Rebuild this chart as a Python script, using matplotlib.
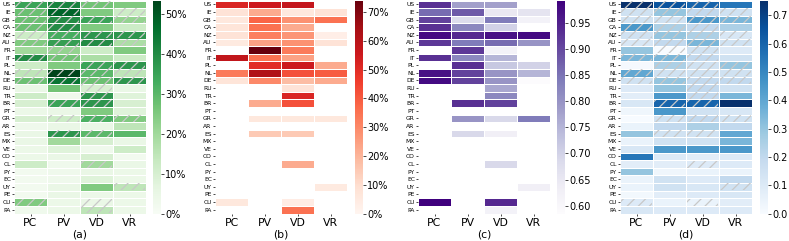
import numpy as np
import matplotlib
matplotlib.use("Agg")
import matplotlib.pyplot as plt
from matplotlib.patches import Rectangle
from matplotlib.ticker import FuncFormatter

countries = ["US", "IE", "GB", "CA", "NZ", "AU", "FR", "IT", "PL", "NL", "DE", "RU", "TR", "BR",
             "PT", "GR", "AR", "ES", "MX", "VE", "CO", "CL", "PY", "EC", "UY", "PE", "CU", "PA"]
columns = ["PC", "PV", "VD", "VR"]
N = None

# (a) percentages
vals_a = [
    [35, 42, 27, 25], [28, 48, 25, 12], [28, 40, 35, 22], [28, 40, 25, 12],
    [12, 33, 38, 38], [25, 36, 40, 18], [20, 22, 12, 25], [40, 27, 18, 12],
    [12, 25, 35, 38], [15, 53.5, 30, 15], [28, 45, 28, 38], [5, 27, 10, 5],
    [12, 3, 38, 8], [10, 35, 38, 10], [4, 5, 25, 8], [10, 12, 32, 25],
    [3, 5, 5, 15], [5, 38, 30, 30], [5, 20, 10, 5], [4, 8, 3, 12],
    [4, 5, 10, 2], [12, 3, 20, 5], [2, 3, 5, 4], [2, 3, 8, 4],
    [2, 5, 25, 15], [2, 5, 4, 4], [25, 4, 5, 4], [3, 4, 15, 4],
]
hatch_a = [
    [1, 1, 1, 0], [1, 1, 0, 1], [1, 1, 1, 1], [1, 1, 0, 0], [1, 1, 1, 1], [1, 1, 1, 1],
    [0, 1, 0, 0], [1, 1, 0, 0], [0, 0, 1, 1], [1, 1, 1, 1], [1, 1, 1, 1], [0, 0, 1, 0],
    [0, 0, 1, 0], [0, 1, 1, 0], [0, 0, 0, 0], [0, 1, 1, 1], [0, 0, 0, 0], [0, 1, 1, 0],
    [0, 0, 0, 0], [0, 0, 0, 0], [0, 0, 0, 0], [0, 0, 1, 0], [0, 0, 0, 0], [0, 0, 0, 0],
    [0, 0, 0, 1], [0, 0, 0, 0], [1, 0, 1, 0], [0, 0, 1, 0],
]
# (b) percentages
vals_b = [
    [52, 55, 57, N], [8, 22, 6, 8], [6, 38, 28, 35], [7, 35, 22, N],
    [8, 32, 27, 3], [5, 24, 28, 8], [N, 74, 33, N], [58, 35, 24, N],
    [N, 50, 55, 22], [33, 62, 42, 40], [7, 30, 18, 22], [N, N, 8, N],
    [N, N, 52, N], [N, 22, 42, N], [N, N, N, N], [N, 6, 6, 6],
    [N, N, N, N], [N, 15, 15, N], [N, N, N, N], [N, N, N, N],
    [N, N, N, N], [N, N, 22, N], [N, N, N, N], [N, N, N, N],
    [N, N, N, 5], [N, N, N, N], [6, N, 4, N], [N, N, 35, N],
]
# (c)
vals_c = [
    [0.93, 0.78, 0.78, N], [0.86, 0.88, 0.65, 0.66], [0.91, 0.68, 0.84, 0.62], [0.93, 0.82, 0.70, N],
    [0.98, 0.94, 0.97, 0.98], [0.92, 0.84, 0.86, 0.80], [N, 0.92, 0.62, N], [0.93, 0.82, 0.75, N],
    [N, 0.93, 0.72, 0.70], [0.97, 0.91, 0.80, 0.75], [0.98, 0.91, 0.80, 0.585], [N, N, 0.77, N],
    [N, N, 0.82, N], [N, 0.93, 0.91, N], [N, N, N, N], [N, 0.80, 0.69, 0.84],
    [N, N, N, N], [N, 0.69, 0.63, N], [N, N, N, N], [N, N, N, N],
    [N, N, N, N], [N, N, 0.69, N], [N, N, N, N], [N, N, N, N],
    [N, N, N, 0.63], [N, N, N, N], [0.993, N, 0.94, N], [N, N, 0.62, N],
]
# (d)
vals_d = [
    [0.753, 0.65, 0.60, 0.55], [0.15, 0.30, 0.20, 0.15], [0.15, 0.15, 0.45, 0.35], [0.45, 0.25, 0.20, 0.25],
    [0.15, 0.30, 0.25, 0.12], [0.12, 0.20, 0.35, 0.15], [0.30, 0.0, 0.15, 0.10], [0.35, 0.35, 0.20, 0.15],
    [0.01, 0.25, 0.15, 0.30], [0.40, 0.15, 0.15, 0.15], [0.15, 0.30, 0.20, 0.20], [0.10, 0.30, 0.20, 0.15],
    [0.08, 0.45, 0.20, 0.35], [0.12, 0.60, 0.60, 0.75], [0.03, 0.45, 0.15, 0.12], [0.0, 0.15, 0.20, 0.15],
    [0.05, 0.20, 0.25, 0.20], [0.30, 0.15, 0.15, 0.40], [0.05, 0.15, 0.15, 0.35], [0.12, 0.45, 0.45, 0.45],
    [0.55, 0.10, 0.08, 0.10], [0.08, 0.08, 0.10, 0.10], [0.30, 0.03, 0.05, 0.05], [0.05, 0.15, 0.10, 0.20],
    [0.05, 0.15, 0.12, 0.15], [0.02, 0.08, 0.10, 0.12], [0.10, 0.05, 0.05, 0.08], [0.12, 0.10, 0.10, 0.10],
]
hatch_d = [
    [1, 1, 1, 0], [1, 1, 1, 1], [1, 1, 1, 1], [1, 1, 1, 0], [1, 1, 1, 1], [1, 1, 1, 1],
    [0, 1, 1, 0], [1, 1, 1, 0], [0, 1, 1, 1], [1, 1, 1, 1], [1, 1, 1, 1], [0, 0, 1, 0],
    [0, 0, 1, 0], [0, 1, 1, 0], [0, 0, 0, 0], [0, 1, 1, 1], [0, 0, 0, 0], [0, 1, 1, 0],
    [0, 0, 0, 0], [0, 0, 0, 0], [0, 0, 0, 0], [0, 0, 1, 0], [0, 0, 0, 0], [0, 0, 0, 0],
    [0, 0, 0, 1], [0, 0, 0, 0], [1, 0, 1, 0], [0, 0, 0, 0],
]
panel_labels = ["(a)", "(b)", "(c)", "(d)"]

W, H = 789, 241
HATCH_COLOR = "#c8c8c8"
plt.rcParams["hatch.linewidth"] = 0.9
plt.rcParams["hatch.color"] = HATCH_COLOR
fig = plt.figure(figsize=(W / 100, H / 100), dpi=100)


def to_arr(v):
    return np.array([[np.nan if x is None else x for x in row] for row in v], dtype=float)


specs = [
    (vals_a, hatch_a, "Greens", 0.0, None, FuncFormatter(lambda v, p: "%d%%" % round(v)), np.arange(0, 60, 10)),
    (vals_b, None, "Reds", 0.0, None, FuncFormatter(lambda v, p: "%d%%" % round(v)), np.arange(0, 80, 10)),
    (vals_c, None, "Purples", None, None, FuncFormatter(lambda v, p: "%.2f" % v), np.arange(0.60, 0.96, 0.05)),
    (vals_d, hatch_d, "Blues", 0.0, None, FuncFormatter(lambda v, p: "%.1f" % v), np.arange(0.0, 0.75, 0.1)),
]
hm_x = [14, 215, 418, 620]
cb_x = [153, 355, 557, 760]
hm_w = 132
top_px, bot_px = 0.5, 213.5

nr, nc = len(countries), len(columns)
for i, (vals, hatch, cmap, vmin, vmax, fmt, ticks) in enumerate(specs):
    data = to_arr(vals)
    if vmin is None:
        vmin = np.nanmin(data)
    if vmax is None:
        vmax = np.nanmax(data)
    ax = fig.add_axes([hm_x[i] / W, (H - bot_px) / H, hm_w / W, (bot_px - top_px) / H])
    m = ax.pcolormesh(np.arange(nc + 1), np.arange(nr + 1), np.ma.masked_invalid(data),
                      cmap=cmap, vmin=vmin, vmax=vmax, edgecolors="white", linewidth=0.6)
    if hatch is not None:
        for r in range(nr):
            for c in range(nc):
                if hatch[r][c]:
                    ax.add_patch(Rectangle((c + 0.02, r + 0.04), 0.96, 0.92, fill=False, hatch="///",
                                           edgecolor=HATCH_COLOR, linewidth=0))
    ax.set_xlim(0, nc)
    ax.set_ylim(nr, 0)
    for s in ax.spines.values():
        s.set_visible(False)
    ax.set_xticks(np.arange(nc) + 0.5)
    ax.set_xticklabels(columns, fontsize=7.8)
    ax.set_yticks(np.arange(nr) + 0.5)
    ax.set_yticklabels(countries, fontsize=4.3)
    ax.tick_params(axis="y", length=1.5, width=0.5, pad=0.8)
    ax.tick_params(axis="x", length=1.5, width=0.5, pad=1.5)
    ax.set_xlabel(panel_labels[i], fontsize=7.8, labelpad=1.5)

    cax = fig.add_axes([cb_x[i] / W, (H - bot_px) / H, 7.5 / W, (bot_px - top_px) / H])
    cb = fig.colorbar(m, cax=cax)
    cb.outline.set_linewidth(0)
    cb.set_ticks(ticks)
    cb.ax.yaxis.set_major_formatter(fmt)
    cb.ax.tick_params(labelsize=7, length=2, width=0.5, pad=1.5)

fig.savefig("out.png", dpi=100)
